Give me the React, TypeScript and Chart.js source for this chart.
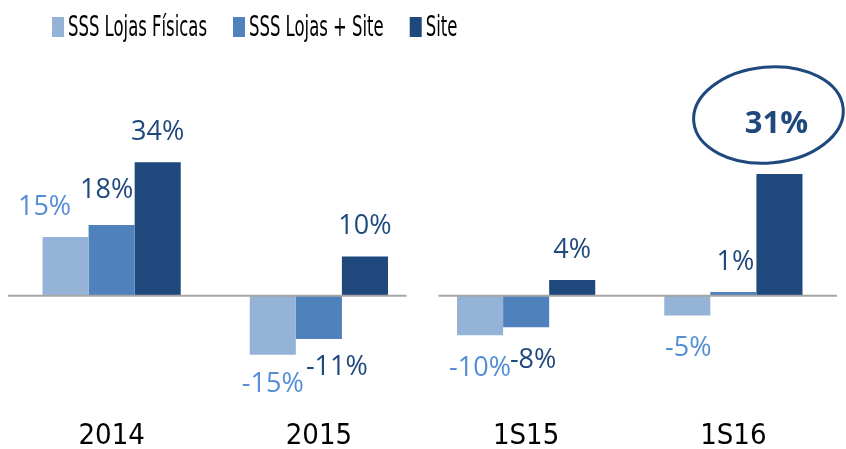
import React, { useEffect, useRef } from "react";
import { Chart, registerables } from "chart.js";

Chart.register(...registerables);

const categories = ["2014", "2015", "1S15", "1S16"];
const seriesNames = ["SSS Lojas Físicas", "SSS Lojas + Site", "Site"];
const lojasFisicas = [15, -15, -10, -5];
const lojasSite = [18, -11, -8, 1];
const site = [34, 10, 4, 31];

const barColors = ["#95B3D7", "#4F81BD", "#1F497D"];
const labelColors = ["#558ED5", "#1F497D", "#1F497D"];
const highlight = { dataset: 2, index: 3 };

const NARROW = '"Liberation Sans Narrow", "DejaVu Sans Condensed", "Liberation Sans", sans-serif';
const LABEL_FONT = '"Open Sans", "Noto Sans", sans-serif';

// label nudges [dataset-index] => [dx, extra offset]
const nudges: Record<string, [number, number]> = {
  "0-0": [-21, 0],
  "1-0": [-5, 5],
  "1-1": [18, -2],
  "0-2": [0, 3],
  "1-2": [7, 3],
  "0-3": [1, 3],
  "1-3": [2, 0],
  "2-3": [-3, 20],
};

const legendPlugin = {
  id: "customLegend",
  afterDraw(chart: any) {
    const ctx = chart.ctx;
    ctx.save();
    let x = 52;
    const y = 27;
    ctx.font = `29px ${NARROW}`;
    ctx.textBaseline = "middle";
    ctx.textAlign = "left";
    const firstW = ctx.measureText(chart.data.datasets[0].label).width;
    const sx = 139 / firstW;
    chart.data.datasets.forEach((ds: any) => {
      ctx.fillStyle = ds.backgroundColor;
      ctx.fillRect(x, y - 10, 12, 20);
      ctx.fillStyle = "#000";
      const w = ctx.measureText(ds.label).width * sx;
      ctx.save();
      ctx.translate(x + 16, y + 1);
      ctx.scale(sx, 1);
      ctx.fillText(ds.label, 0, 0);
      ctx.restore();
      x += 16 + w + 26;
    });
    ctx.restore();
  },
};

const overlayPlugin = {
  id: "overlay",
  afterDatasetsDraw(chart: any) {
    const ctx = chart.ctx;
    const { left, right } = chart.chartArea;
    const y0 = chart.scales.y.getPixelForValue(0);
    const mid = (left + right) / 2;
    ctx.save();
    ctx.strokeStyle = "#A6A6A6";
    ctx.lineWidth = 2;
    ctx.beginPath();
    ctx.moveTo(left, y0);
    ctx.lineTo(mid - 16, y0);
    ctx.moveTo(mid + 16, y0);
    ctx.lineTo(right, y0);
    ctx.stroke();

    ctx.textAlign = "center";
    ctx.textBaseline = "middle";
    chart.data.datasets.forEach((ds: any, di: number) => {
      const meta = chart.getDatasetMeta(di);
      meta.data.forEach((bar: any, i: number) => {
        const v = ds.data[i];
        const isHi = di === highlight.dataset && i === highlight.index;
        const [dx, extra] = nudges[`${di}-${i}`] || [0, 0];
        const off = 30 + extra;
        const yy = v >= 0 ? bar.y - off : bar.y + off;
        ctx.font = isHi ? `bold 31px ${LABEL_FONT}` : `27px ${LABEL_FONT}`;
        ctx.fillStyle = labelColors[di];
        ctx.fillText(`${v}%`, bar.x + dx, yy);
        if (isHi) {
          const cx = bar.x + dx - 8;
          const cy = yy - 9;
          ctx.strokeStyle = "#1F497D";
          ctx.lineWidth = 3;
          ctx.beginPath();
          ctx.ellipse(cx, cy, 75, 48, -0.09, 0.25 * Math.PI, 2.25 * Math.PI + 0.45);
          ctx.stroke();
        }
      });
    });
    ctx.restore();
  },
};

export default function App() {
  const ref = useRef<HTMLCanvasElement>(null);
  useEffect(() => {
    const vals = [lojasFisicas, lojasSite, site];
    const chart = new Chart(ref.current!, {
      type: "bar",
      data: {
        labels: categories,
        datasets: seriesNames.map((name, i) => ({
          label: name,
          data: vals[i],
          backgroundColor: barColors[i],
          barPercentage: 1,
          categoryPercentage: 0.667,
        })),
      },
      options: {
        animation: false,
        responsive: true,
        maintainAspectRatio: false,
        layout: { padding: { top: 60, left: 8, right: 9, bottom: 0 } },
        plugins: { legend: { display: false }, tooltip: { enabled: false } },
        scales: {
          x: {
            grid: { display: false, drawTicks: false },
            border: { display: false },
            ticks: { color: "#000", font: { family: NARROW, size: 29 }, padding: 30 },
            afterFit(scale: any) {
              scale.height = 60;
            },
          },
          y: { display: false, min: -23.7, max: 60 },
        },
      },
      plugins: [legendPlugin, overlayPlugin],
    });
    return () => chart.destroy();
  }, []);
  return (
    <div style={{ position: "fixed", left: 0, top: 0, width: 846, height: 449, background: "#fff" }}>
      <canvas ref={ref} />
    </div>
  );
}
